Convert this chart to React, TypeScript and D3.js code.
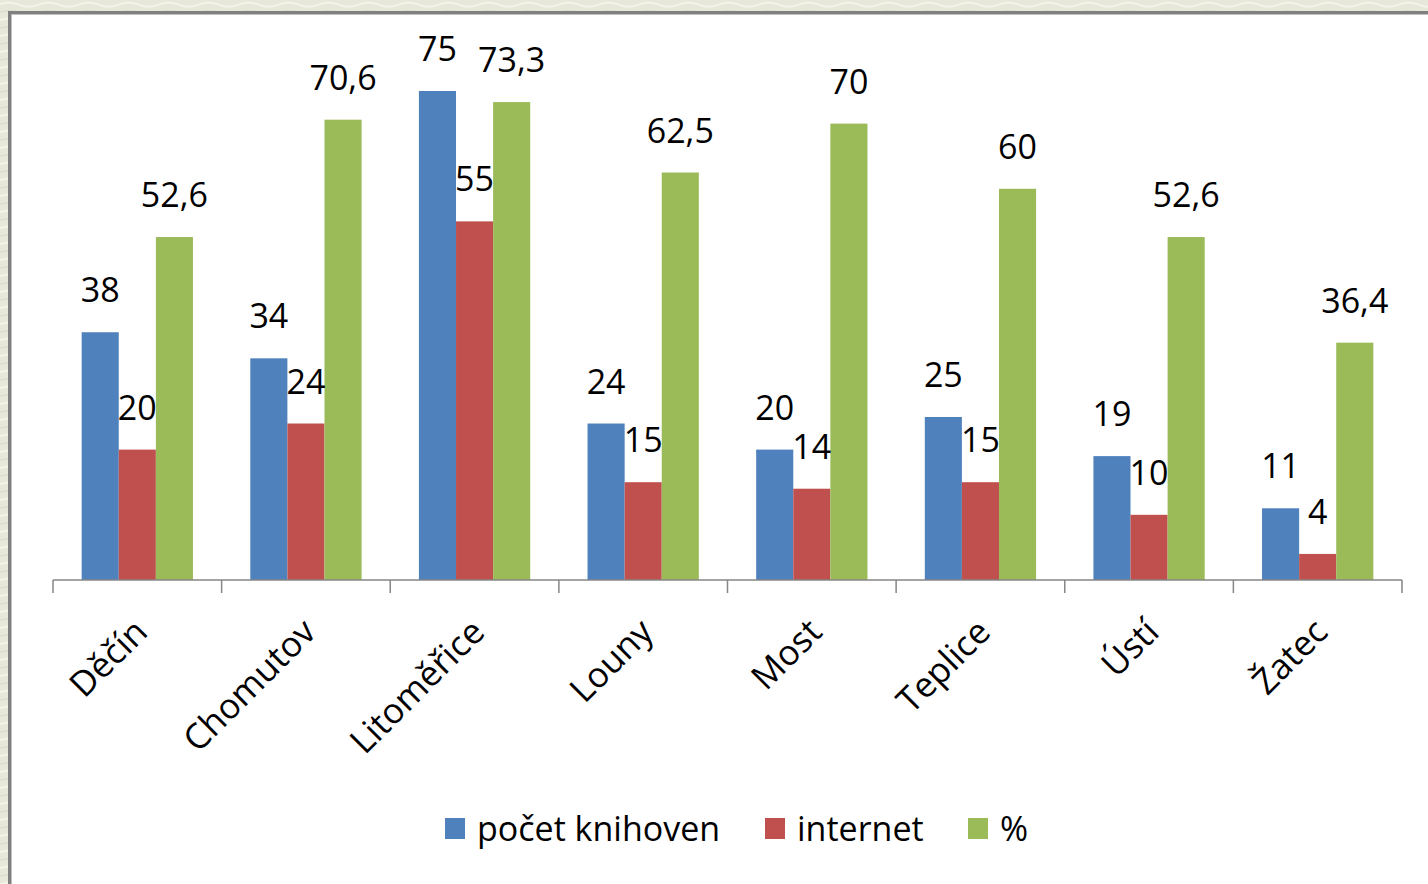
import React from "react";
import * as d3 from "d3";

const categories = ["Děčín", "Chomutov", "Litoměřice", "Louny", "Most", "Teplice", "Ústí", "Žatec"];
const seriesNames = ["počet knihoven", "internet", "%"];
const pocetKnihoven = [38, 34, 75, 24, 20, 25, 19, 11];
const internet = [20, 24, 55, 15, 14, 15, 10, 4];
const procenta = [52.6, 70.6, 73.3, 62.5, 70, 60, 52.6, 36.4];
const colors = ["#4f81bd", "#c0504d", "#9bbb59"];

const W = 1428;
const H = 884;
const FONT = "'Open Sans', 'Noto Sans', sans-serif";

export default function App() {
  const series = [pocetKnihoven, internet, procenta];
  const x0 = d3.scaleBand<string>().domain(categories).range([53, 1402]).paddingInner(0.34).paddingOuter(0.17);
  const x1 = d3.scaleBand<number>().domain([0, 1, 2]).range([0, x0.bandwidth()]);
  const y = d3.scaleLinear().domain([0, 80]).range([580, 58.4]);
  const step = x0.step();
  const axisY = y(0);
  const fmt = (v: number) => String(v).replace(".", ",");
  const ticks = d3.range(categories.length + 1).map((i) => 53 + i * step);
  const legendX = [445, 765, 968];

  return (
    <div style={{ position: "absolute", left: 0, top: 0 }}>
      <svg width={W} height={H} style={{ display: "block" }}>
        <defs>
          <pattern id="tex" width="40" height="16" patternUnits="userSpaceOnUse">
            <rect width="40" height="16" fill="#e8e8da" />
            <path d="M0 4 Q10 1 20 5 T40 4" stroke="#f3f3ea" strokeWidth="2" fill="none" />
            <path d="M0 12 Q12 9 22 13 T40 11" stroke="#dedecf" strokeWidth="1.5" fill="none" />
          </pattern>
        </defs>
        <rect x={0} y={0} width={W} height={H} fill="url(#tex)" />
        <rect x={8} y={11} width={W - 8} height={H - 11} fill="#ffffff" />
        <line x1={8} y1={12.5} x2={W} y2={12.5} stroke="#808080" strokeWidth={3} />
        <line x1={9.5} y1={11} x2={9.5} y2={H} stroke="#808080" strokeWidth={3} />
        <line x1={11} y1={14.5} x2={W} y2={14.5} stroke="#c0c0c0" strokeWidth={1} />
        <line x1={11.5} y1={14} x2={11.5} y2={H} stroke="#c0c0c0" strokeWidth={1} />

        {categories.map((c, ci) => (
          <g key={c} transform={`translate(${x0(c)},0)`}>
            {series.map((s, si) => (
              <rect
                key={si}
                x={x1(si)}
                y={y(s[ci])}
                width={x1.bandwidth()}
                height={axisY - y(s[ci])}
                fill={colors[si]}
              />
            ))}
            {series.map((s, si) => (
              <text
                key={"t" + si}
                x={(x1(si) as number) + x1.bandwidth() / 2}
                y={y(s[ci]) - 30}
                textAnchor="middle"
                fontFamily={FONT}
                fontSize={34}
                fill="#000"
              >
                {fmt(s[ci])}
              </text>
            ))}
          </g>
        ))}

        <line x1={53} y1={axisY} x2={1402} y2={axisY} stroke="#868686" strokeWidth={1.5} />
        {ticks.map((t, i) => (
          <line key={i} x1={t} y1={axisY} x2={t} y2={axisY + 13} stroke="#868686" strokeWidth={1.5} />
        ))}

        {categories.map((c) => {
          const cx = (x0(c) as number) + x0.bandwidth() / 2;
          return (
            <text
              key={"l" + c}
              transform={`translate(${cx + 12},634) rotate(-45)`}
              textAnchor="end"
              fontFamily={FONT}
              fontSize={35}
              fill="#000"
            >
              {c}
            </text>
          );
        })}

        {seriesNames.map((n, i) => (
          <g key={n} transform={`translate(${legendX[i]},818)`}>
            <rect x={0} y={0} width={20} height={21} fill={colors[i]} />
            <text x={32} y={23} fontFamily={FONT} fontSize={34} fill="#000">
              {n}
            </text>
          </g>
        ))}
      </svg>
    </div>
  );
}
